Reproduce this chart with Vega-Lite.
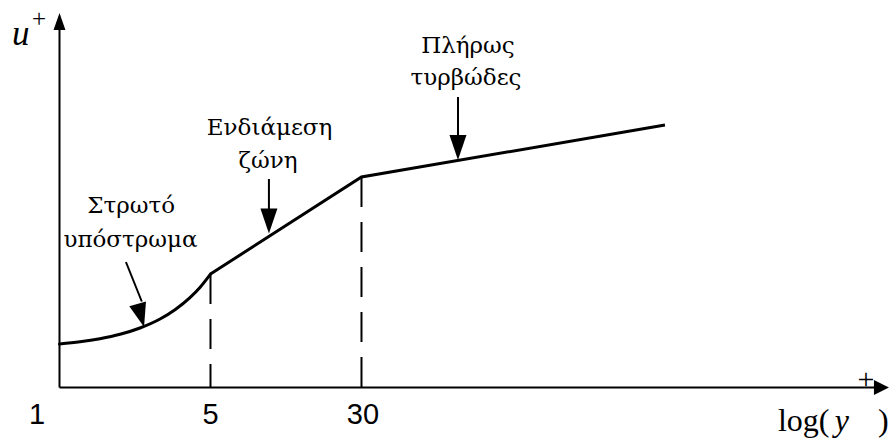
{
  "$schema": "https://vega.github.io/schema/vega-lite/v6.json",
  "width": 893,
  "height": 439,
  "padding": 0,
  "autosize": {"type": "none"},
  "background": "white",
  "config": {"view": {"stroke": null}},
  "datasets": {
    "frame": [
      {"part": "axis", "x": 0, "y": 0, "x2": 5.40, "y2": 0},
      {"part": "axis", "x": 0, "y": 0, "x2": 0, "y2": 36.0},
      {"part": "guide", "x": 1, "y": 11.35, "x2": 1, "y2": 0},
      {"part": "guide", "x": 2, "y": 21.05, "x2": 2, "y2": 0},
      {"part": "pointer", "x": 0.44, "y": 12.55, "x2": 0.545, "y2": 8.6},
      {"part": "pointer", "x": 1.387, "y": 20.85, "x2": 1.387, "y2": 17.0},
      {"part": "pointer", "x": 2.639, "y": 29.05, "x2": 2.639, "y2": 24.5}
    ],
    "profile": [
      {"zone": "viscous", "x": 0.0, "y": 4.35},
      {"zone": "viscous", "x": 0.136, "y": 4.57},
      {"zone": "viscous", "x": 0.268, "y": 4.88},
      {"zone": "viscous", "x": 0.401, "y": 5.32},
      {"zone": "viscous", "x": 0.533, "y": 5.95},
      {"zone": "viscous", "x": 0.666, "y": 6.85},
      {"zone": "viscous", "x": 0.765, "y": 7.78},
      {"zone": "viscous", "x": 0.864, "y": 8.99},
      {"zone": "viscous", "x": 0.93, "y": 10.01},
      {"zone": "viscous", "x": 1.0, "y": 11.35},
      {"zone": "log", "x": 1.0, "y": 11.35},
      {"zone": "log", "x": 2.0, "y": 21.05},
      {"zone": "log", "x": 4.01, "y": 26.25}
    ],
    "heads": [
      {"name": "laminar", "x": 0.56, "y": 6.05},
      {"name": "buffer", "x": 1.387, "y": 15.4},
      {"name": "turbulent", "x": 2.639, "y": 22.75}
    ],
    "axisHeads": [
      {"axis": "u", "x": 0.0, "y": 37.45},
      {"axis": "logy", "x": 5.493, "y": 0.0}
    ],
    "notes": [
      {"text": "Πλήρως", "x": 2.705, "y": 33.45},
      {"text": "τυρβώδες", "x": 2.692, "y": 30.25},
      {"text": "Ενδιάμεση", "x": 1.391, "y": 25.25},
      {"text": "ζώνη", "x": 1.381, "y": 21.95},
      {"text": "Στρωτό", "x": 0.474, "y": 17.45},
      {"text": "υπόστρωμα", "x": 0.47, "y": 14.05}
    ],
    "ticks": [
      {"text": "1", "x": -0.149, "y": -3.65},
      {"text": "5", "x": 1.0, "y": -3.65},
      {"text": "30", "x": 2.01, "y": -3.65}
    ],
    "mathItalic": [
      {"text": "u", "x": -0.315, "y": 34.25}
    ],
    "axisLabelItalic": [
      {"text": "y", "x": 5.135, "y": -4.35}
    ],
    "mathUpright": [
      {"text": "log(", "x": 4.758, "y": -4.35},
      {"text": ")", "x": 5.42, "y": -4.35}
    ],
    "supU": [
      {"text": "+", "x": -0.182, "y": 36.05}
    ],
    "supY": [
      {"text": "+", "x": 5.285, "y": -0.15}
    ]
  },
  "encoding": {
    "x": {"field": "x", "type": "quantitative", "axis": null,
          "scale": {"domain": [-0.394, 5.52], "nice": false, "zero": false}},
    "y": {"field": "y", "type": "quantitative", "axis": null,
          "scale": {"domain": [-5.15, 38.75], "nice": false, "zero": false}}
  },
  "layer": [
    {
      "data": {"name": "frame"},
      "transform": [{"filter": "datum.part === 'axis'"}],
      "mark": {"type": "rule", "color": "black", "strokeWidth": 2},
      "encoding": {"x2": {"field": "x2"}, "y2": {"field": "y2"}}
    },
    {
      "data": {"name": "frame"},
      "transform": [{"filter": "datum.part === 'guide'"}],
      "mark": {"type": "rule", "color": "black", "strokeWidth": 2, "strokeDash": [30, 15]},
      "encoding": {"x2": {"field": "x2"}, "y2": {"field": "y2"}}
    },
    {
      "data": {"name": "frame"},
      "transform": [{"filter": "datum.part === 'pointer'"}],
      "mark": {"type": "rule", "color": "black", "strokeWidth": 2},
      "encoding": {"x2": {"field": "x2"}, "y2": {"field": "y2"}}
    },
    {
      "data": {"name": "profile"},
      "transform": [{"filter": "datum.zone === 'viscous'"}],
      "mark": {"type": "line", "color": "black", "strokeWidth": 3, "interpolate": "monotone", "strokeCap": "round"},
      "encoding": {"order": {"field": "x"}}
    },
    {
      "data": {"name": "profile"},
      "transform": [{"filter": "datum.zone === 'log'"}],
      "mark": {"type": "line", "color": "black", "strokeWidth": 3, "strokeJoin": "miter", "strokeCap": "butt"},
      "encoding": {"order": {"field": "x"}}
    },
    {
      "data": {"name": "heads"},
      "transform": [{"filter": "datum.name !== 'laminar'"}],
      "mark": {"type": "point", "shape": "M -0.68 -2 L 0.68 -2 L 0 0 Z", "size": 625,
               "filled": true, "color": "black", "opacity": 1, "strokeWidth": 0}
    },
    {
      "data": {"name": "heads"},
      "transform": [{"filter": "datum.name === 'laminar'"}],
      "mark": {"type": "point", "shape": "M -0.72 -2 L 0.72 -2 L 0 0 Z", "size": 576, "angle": 344.5,
               "filled": true, "color": "black", "opacity": 1, "strokeWidth": 0}
    },
    {
      "data": {"name": "axisHeads"},
      "transform": [{"filter": "datum.axis === 'u'"}],
      "mark": {"type": "point", "shape": "M -0.7 2 L 0.7 2 L 0 0 Z", "size": 289,
               "filled": true, "color": "black", "opacity": 1, "strokeWidth": 0}
    },
    {
      "data": {"name": "axisHeads"},
      "transform": [{"filter": "datum.axis === 'logy'"}],
      "mark": {"type": "point", "shape": "M -2 -1 L -2 1 L 0 0 Z", "size": 225,
               "filled": true, "color": "black", "opacity": 1, "strokeWidth": 0}
    },
    {
      "data": {"name": "notes"},
      "mark": {"type": "text", "font": "DejaVu Serif", "fontSize": 23, "align": "center",
               "baseline": "alphabetic", "color": "black"},
      "encoding": {"text": {"field": "text"}}
    },
    {
      "data": {"name": "ticks"},
      "mark": {"type": "text", "font": "Liberation Sans", "fontSize": 29, "align": "center",
               "baseline": "alphabetic", "color": "black"},
      "encoding": {"text": {"field": "text"}}
    },
    {
      "data": {"name": "mathItalic"},
      "mark": {"type": "text", "font": "Liberation Serif", "fontSize": 35, "fontStyle": "italic",
               "align": "left", "baseline": "alphabetic", "color": "black"},
      "encoding": {"text": {"field": "text"}}
    },
    {
      "data": {"name": "axisLabelItalic"},
      "mark": {"type": "text", "font": "Liberation Serif", "fontSize": 32, "fontStyle": "italic",
               "align": "left", "baseline": "alphabetic", "color": "black"},
      "encoding": {"text": {"field": "text"}}
    },
    {
      "data": {"name": "mathUpright"},
      "mark": {"type": "text", "font": "Liberation Serif", "fontSize": 32, "align": "left",
               "baseline": "alphabetic", "color": "black"},
      "encoding": {"text": {"field": "text"}}
    },
    {
      "data": {"name": "supU"},
      "mark": {"type": "text", "font": "Liberation Serif", "fontSize": 25, "align": "left",
               "baseline": "alphabetic", "color": "black"},
      "encoding": {"text": {"field": "text"}}
    },
    {
      "data": {"name": "supY"},
      "mark": {"type": "text", "font": "Liberation Serif", "fontSize": 30, "align": "left",
               "baseline": "alphabetic", "color": "black"},
      "encoding": {"text": {"field": "text"}}
    }
  ]
}
